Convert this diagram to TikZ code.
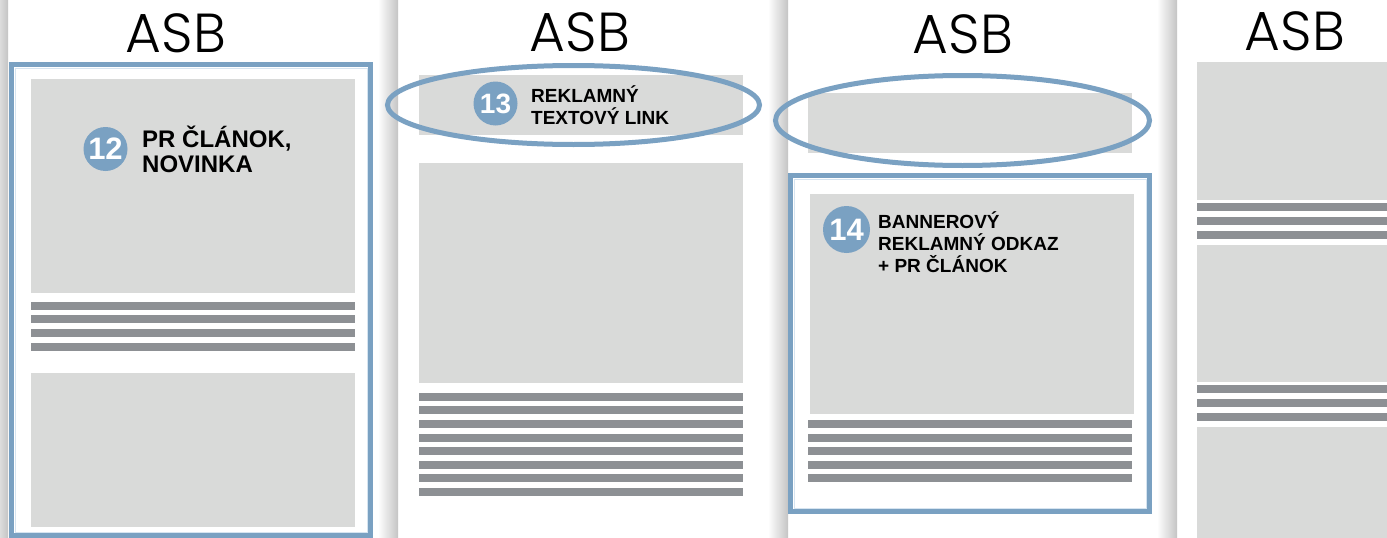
\documentclass[tikz,border=0pt]{standalone}
\usepackage{fontspec}
\setmainfont{Liberation Sans}
\newfontfamily\logofont{Poppins Light}
\usetikzlibrary{shapes.geometric}

\definecolor{asbblue}{RGB}{122,161,194}
\definecolor{asblight}{RGB}{214,228,240}
\definecolor{blockgray}{RGB}{217,218,217}
\definecolor{bargray}{RGB}{141,144,148}
\definecolor{shadowgray}{RGB}{196,196,196}

\tikzset{
    logo/.style={font=\logofont\fontsize{55}{55}\selectfont, inner sep=0pt, anchor=base},
    block/.style={fill=blockgray},
    bar/.style={fill=bargray},
    badge/.style={circle, fill=asbblue, text=white, inner sep=0pt, minimum size=44pt,
        font=\bfseries\fontsize{31}{31}\selectfont},
    caption/.style={font=\bfseries\fontsize{19}{22}\selectfont, align=left,
        inner sep=0pt, anchor=base west},
    frame/.style={draw=asbblue, line width=5pt},
    ring/.style={draw=asbblue, line width=5pt},
    pageshadow/.style={left color=white, right color=shadowgray},
}

\begin{document}
\begin{tikzpicture}[x=1pt, y=-1pt]
    \useasboundingbox (0,0) rectangle (1387,538);
    \fill[white] (0,0) rectangle (1387,538);
    \foreach \px in {8,398,788,1177}
        \shade[pageshadow] (\px-20,0) rectangle (\px,538);

    % page 1
    \path (176,52) node [logo] (asba) {ASB};
    \fill[block] (31,79) rectangle (355,293);
    \foreach \y in {302,315,329,343}
        \fill[bar] (31,\y) rectangle (355,\y+8);
    \fill[block] (31,373) rectangle (355,527);
    \draw[frame] (11.5,64.5) rectangle (370.5,535.5);
    \draw[asblight, line width=1pt] (15,68) rectangle (367,532);
    \path (105.5,149) node [badge] (nr12) {12};
    \path (142,172) node [caption, font=\bfseries\fontsize{24}{25}\selectfont] (txt12)
        {PR ČLÁNOK,\\NOVINKA};

    % page 2
    \path (580,51) node [logo] (asbb) {ASB};
    \fill[block] (419,75) rectangle (743,135);
    \fill[block] (419,163) rectangle (743,383);
    \foreach \y in {393,406,420,434,447,461,474,488}
        \fill[bar] (419,\y) rectangle (743,\y+8);
    \draw[ring] (573.5,105) ellipse [x radius=186, y radius=39.5];
    \path (495.5,103.5) node [badge, font=\bfseries\fontsize{28}{28}\selectfont] (nr13) {13};
    \path (531,124) node [caption] (txt13) {REKLAMNÝ\\TEXTOVÝ LINK};

    % page 3
    \path (963,53) node [logo] (asbc) {ASB};
    \fill[block] (808,93) rectangle (1132,153);
    \draw[ring] (962.5,120.5) ellipse [x radius=187, y radius=45];
    \fill[block] (810,194) rectangle (1134,414);
    \foreach \y in {420,434,447,461,474}
        \fill[bar] (808,\y) rectangle (1132,\y+8);
    \draw[frame] (790.5,175.5) rectangle (1149.5,511.5);
    \draw[asblight, line width=1pt] (794,179) rectangle (1146,508);
    \path (846.5,229.5) node [badge, minimum size=47pt] (nr14) {14};
    \path (878,272) node [caption] (txt14) {BANNEROVÝ\\REKLAMNÝ ODKAZ\\+ PR ČLÁNOK};

    % page 4
    \path (1295,50) node [logo] (asbd) {ASB};
    \fill[block] (1197,62) rectangle (1390,200);
    \foreach \y in {203,217,231}
        \fill[bar] (1197,\y) rectangle (1390,\y+8);
    \fill[block] (1197,245) rectangle (1390,382);
    \foreach \y in {385,399,413}
        \fill[bar] (1197,\y) rectangle (1390,\y+8);
    \fill[block] (1197,427) rectangle (1390,540);
\end{tikzpicture}
\end{document}
